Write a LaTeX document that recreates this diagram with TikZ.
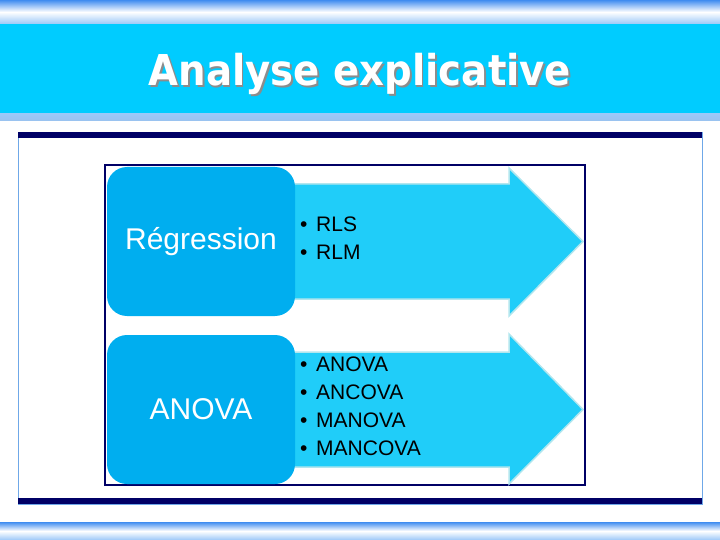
\documentclass[tikz,border=0pt]{standalone}
\usepackage{fontspec}
\setmainfont{Liberation Sans}
\newfontfamily\titlefont[FakeStretch=0.91]{DejaVu Sans}
\usetikzlibrary{positioning}
\definecolor{bandCyan}{HTML}{00CCFF}
\definecolor{barBlue}{HTML}{3F8CF0}
\definecolor{barLight}{HTML}{9CC8F8}
\definecolor{navy}{HTML}{000066}
\definecolor{frameBlue}{HTML}{6FA8E8}
\definecolor{boxBlue}{HTML}{00AEEF}
\definecolor{arrowCyan}{HTML}{20CDF9}
\definecolor{arrowEdge}{HTML}{B2E6EE}
\newcommand{\itm}[1]{\makebox[16pt][l]{\textbullet}#1}

\begin{document}
\begin{tikzpicture}[x=1pt,y=-1pt,
  topic/.style={rounded corners=20pt, fill=boxBlue, text=white,
    minimum width=188pt, minimum height=149pt, inner sep=0pt,
    font=\fontsize{30}{35}\selectfont},
  flow/.style={fill=arrowCyan, draw=arrowEdge, line width=1.5pt},
  items/.style={anchor=north west, align=left, inner sep=0pt,
    font=\fontsize{21}{28}\selectfont, text=black},
  heading/.style={anchor=base, inner sep=0pt,
    font=\titlefont\bfseries\fontsize{42.5}{48}\selectfont}
]
  \useasboundingbox (0,0) rectangle (720,540);
  % page bands
  \shade[top color=barBlue, bottom color=barLight, middle color=white] (0,0) rectangle (720,24);
  \fill[bandCyan] (0,24) rectangle (720,114);
  \shade[top color=barLight, bottom color=frameBlue!70] (0,114) rectangle (720,121);
  \shade[top color=barBlue, bottom color=barLight, middle color=white] (0,522) rectangle (720,540);
  \node[heading, text=black!45] (titleshadow) at (361.5,87.5) {Analyse explicative};
  \node[heading, text=white] (title) at (360,86) {Analyse explicative};
  % content area
  \draw[frameBlue, line width=0.8pt] (18,132) rectangle (702,504);
  \fill[navy] (18,132) rectangle (702,138);
  \fill[navy] (18,498) rectangle (702,504);
  \draw[navy, line width=1.5pt] (105,165) rectangle (585,485);

  % arrows behind the boxes
  \draw[flow] (290,184) -- (509,184) -- (509,168) -- (583,241.5)
    -- (509,316) -- (509,299) -- (290,299) -- cycle;
  \draw[flow] (290,352) -- (509,352) -- (509,334) -- (583,409.5)
    -- (509,484) -- (509,467) -- (290,467) -- cycle;

  \node[topic] (reg) at (201,241.5) {Régression};
  \node[topic] (anova) at (201,409.5) {ANOVA};

  \node[items] (regitems) at (300,217) {\itm{RLS}\\\itm{RLM}};
  \node[items] (anovaitems) at (300,357) {\itm{ANOVA}\\\itm{ANCOVA}\\\itm{MANOVA}\\\itm{MANCOVA}};
\end{tikzpicture}
\end{document}
